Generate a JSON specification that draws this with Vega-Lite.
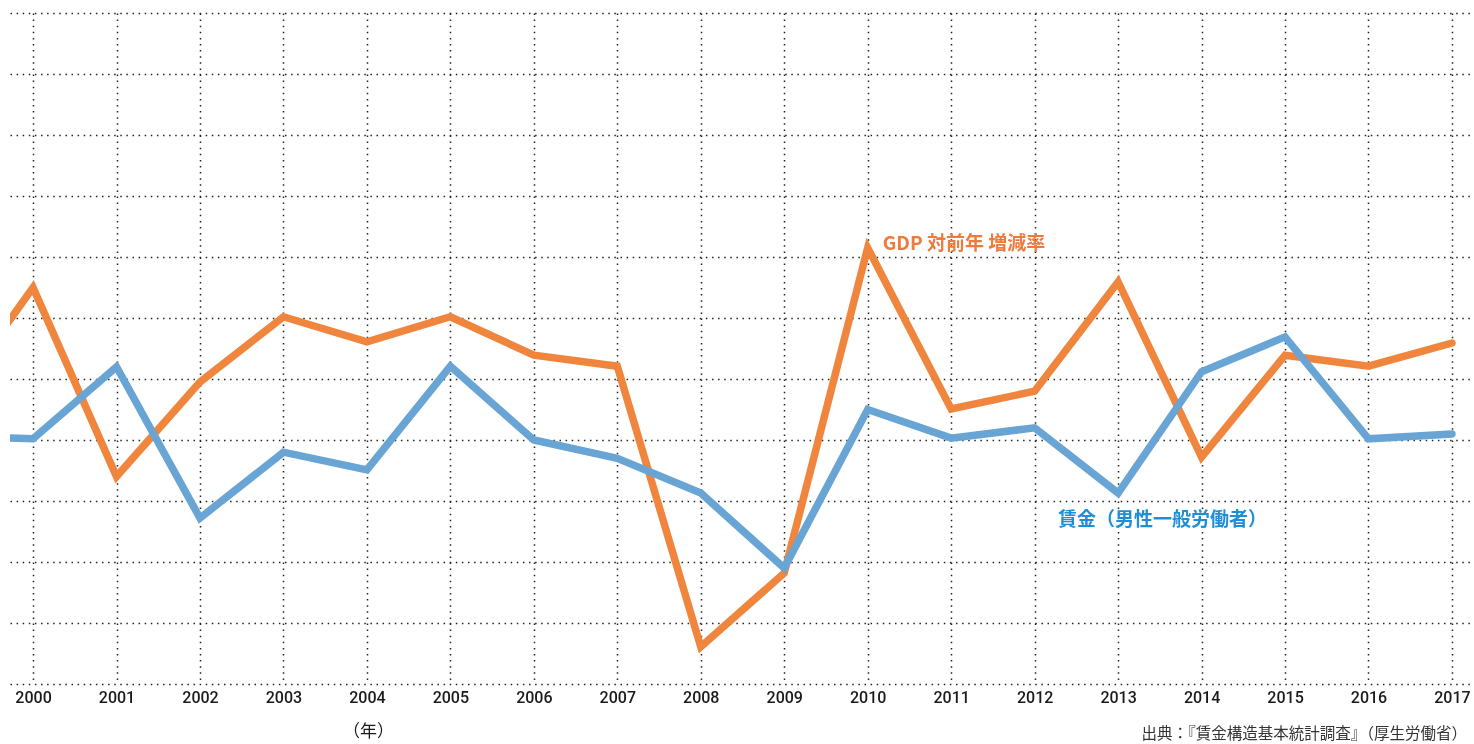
{
  "$schema": "https://vega.github.io/schema/vega-lite/v6.json",
  "width": 1464,
  "height": 671,
  "autosize": {"type": "none"},
  "padding": {"left": 10, "top": 13, "right": 0, "bottom": 60},
  "background": "white",
  "config": {"view": {"stroke": null}, "font": "Roboto"},
  "datasets": {
    "series": [
      {"year": 1999, "value": 0.58, "series": "GDP"},
      {"year": 2000, "value": 2.5, "series": "GDP"},
      {"year": 2001, "value": -0.6, "series": "GDP"},
      {"year": 2002, "value": 0.95, "series": "GDP"},
      {"year": 2003, "value": 2.02, "series": "GDP"},
      {"year": 2004, "value": 1.61, "series": "GDP"},
      {"year": 2005, "value": 2.02, "series": "GDP"},
      {"year": 2006, "value": 1.39, "series": "GDP"},
      {"year": 2007, "value": 1.21, "series": "GDP"},
      {"year": 2008, "value": -3.39, "series": "GDP"},
      {"year": 2009, "value": -2.18, "series": "GDP"},
      {"year": 2010, "value": 3.15, "series": "GDP"},
      {"year": 2011, "value": 0.51, "series": "GDP"},
      {"year": 2012, "value": 0.8, "series": "GDP"},
      {"year": 2013, "value": 2.59, "series": "GDP"},
      {"year": 2014, "value": -0.28, "series": "GDP"},
      {"year": 2015, "value": 1.39, "series": "GDP"},
      {"year": 2016, "value": 1.21, "series": "GDP"},
      {"year": 2017, "value": 1.59, "series": "GDP"},
      {"year": 1999, "value": 0.07, "series": "賃金"},
      {"year": 2000, "value": 0.02, "series": "賃金"},
      {"year": 2001, "value": 1.2, "series": "賃金"},
      {"year": 2002, "value": -1.28, "series": "賃金"},
      {"year": 2003, "value": -0.2, "series": "賃金"},
      {"year": 2004, "value": -0.49, "series": "賃金"},
      {"year": 2005, "value": 1.21, "series": "賃金"},
      {"year": 2006, "value": 0.0, "series": "賃金"},
      {"year": 2007, "value": -0.3, "series": "賃金"},
      {"year": 2008, "value": -0.87, "series": "賃金"},
      {"year": 2009, "value": -2.1, "series": "賃金"},
      {"year": 2010, "value": 0.5, "series": "賃金"},
      {"year": 2011, "value": 0.03, "series": "賃金"},
      {"year": 2012, "value": 0.2, "series": "賃金"},
      {"year": 2013, "value": -0.87, "series": "賃金"},
      {"year": 2014, "value": 1.12, "series": "賃金"},
      {"year": 2015, "value": 1.69, "series": "賃金"},
      {"year": 2016, "value": 0.02, "series": "賃金"},
      {"year": 2017, "value": 0.1, "series": "賃金"}
    ]
  },
  "layer": [
    {
      "mark": {"type": "rule", "color": "#000000", "strokeWidth": 1.5},
      "encoding": {
        "y": {"datum": 0, "type": "quantitative", "scale": {"domain": [-4, 7], "nice": false, "zero": false}}
      }
    },
    {
      "data": {"name": "series"},
      "mark": {"type": "line", "strokeWidth": 7.5, "clip": true, "strokeCap": "round", "strokeJoin": "miter", "blend": "multiply"},
      "encoding": {
        "x": {
          "field": "year",
          "type": "quantitative",
          "scale": {"domain": [1999.724, 2017.264], "nice": false, "zero": false},
          "axis": {
            "values": [2000, 2001, 2002, 2003, 2004, 2005, 2006, 2007, 2008, 2009, 2010, 2011, 2012, 2013, 2014, 2015, 2016, 2017],
            "format": "d",
            "grid": true,
            "gridDash": [1.5, 4.6],
            "gridColor": "#222222",
            "gridWidth": 1.5,
            "domain": false,
            "ticks": false,
            "labelFontSize": 16,
            "labelFontWeight": 500,
            "labelColor": "#1a1a1a",
            "labelPadding": 5,
            "labelFlush": false,
            "title": "（年）",
            "titleFont": "Noto Sans CJK JP",
            "titleFontSize": 17,
            "titleFontWeight": "normal",
            "titleColor": "#1a1a1a",
            "titleX": 358,
            "titleY": 47,
            "titleAlign": "center",
            "titleBaseline": "middle"
          }
        },
        "y": {
          "field": "value",
          "type": "quantitative",
          "scale": {"domain": [-4, 7], "nice": false, "zero": false},
          "axis": {
            "values": [-4, -3, -2, -1, 0, 1, 2, 3, 4, 5, 6, 7],
            "grid": true,
            "gridDash": [1.5, 4.6],
            "gridColor": "#222222",
            "gridWidth": 1.5,
            "labels": false,
            "domain": false,
            "ticks": false,
            "title": null
          }
        },
        "color": {
          "field": "series",
          "type": "nominal",
          "scale": {"domain": ["GDP", "賃金"], "range": ["#F0853E", "#68A4D4"]},
          "legend": null
        }
      }
    },
    {
      "data": {"values": [{"year": 2010.18, "value": 3.22, "label": "GDP 対前年 増減率"}]},
      "mark": {"type": "text", "align": "left", "baseline": "middle", "fontSize": 19, "fontWeight": "bold", "color": "#EE7A3C", "font": "Noto Sans CJK JP"},
      "encoding": {
        "x": {"field": "year", "type": "quantitative"},
        "y": {"field": "value", "type": "quantitative"},
        "text": {"field": "label"}
      }
    },
    {
      "data": {"values": [{"year": 2012.28, "value": -1.31, "label": "賃金（男性一般労働者）"}]},
      "mark": {"type": "text", "align": "left", "baseline": "middle", "fontSize": 19, "fontWeight": "bold", "color": "#1E8ED6", "font": "Noto Sans CJK JP"},
      "encoding": {
        "x": {"field": "year", "type": "quantitative"},
        "y": {"field": "value", "type": "quantitative"},
        "text": {"field": "label"}
      }
    },
    {
      "data": {"values": [{"year": 2017.18, "value": -4.82, "label": "出典：『賃金構造基本統計調査』（厚生労働省）"}]},
      "mark": {"type": "text", "align": "right", "baseline": "middle", "fontSize": 15.5, "fontWeight": "normal", "color": "#333333", "font": "Noto Sans CJK JP"},
      "encoding": {
        "x": {"field": "year", "type": "quantitative"},
        "y": {"field": "value", "type": "quantitative"},
        "text": {"field": "label"}
      }
    }
  ]
}
